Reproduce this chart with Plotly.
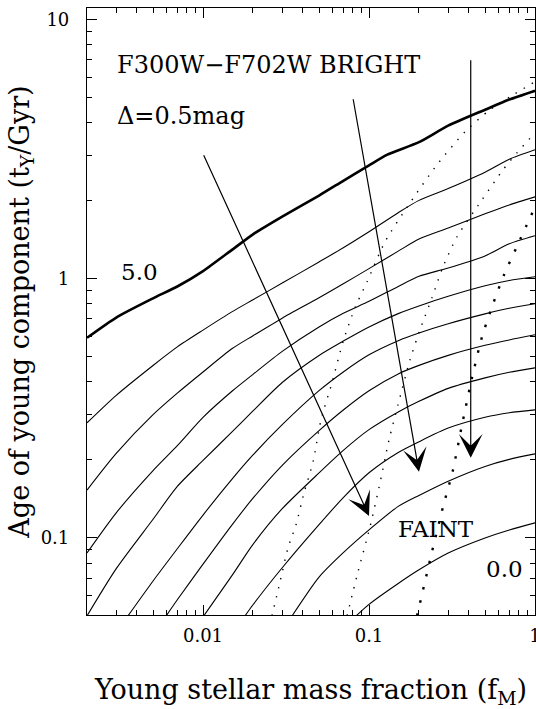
import numpy as np
import plotly.graph_objects as go

# ---------------- data ----------------
# contour curves of constant colour change, 5.0 (thick) down to 0.0 mag
x_grid = [0.002, 0.003, 0.005, 0.007, 0.01, 0.015, 0.02, 0.03, 0.05, 0.07,
          0.1, 0.15, 0.2, 0.3, 0.5, 0.7, 1.0]

c50_x = [0.002, 0.003, 0.005, 0.007, 0.01, 0.015, 0.02, 0.03, 0.05, 0.07,
         0.1, 0.128, 0.2, 0.3, 0.5, 0.7, 1.0]
c50_y = [0.592, 0.709, 0.841, 0.934, 1.071, 1.296, 1.485, 1.739, 2.096, 2.390,
         2.741, 3.01, 3.368, 3.901, 4.494, 4.920, 5.319]
c45_y = [0.278, 0.355, 0.463, 0.546, 0.634, 0.747, 0.830, 0.963, 1.162, 1.318,
         1.519, 1.800, 2.008, 2.230, 2.578, 2.893, 3.148]
c40_y = [0.153, 0.212, 0.299, 0.362, 0.437, 0.538, 0.603, 0.705, 0.845, 0.957,
         1.095, 1.279, 1.424, 1.571, 1.782, 1.929, 2.073]
c35_y = [0.0875, 0.125, 0.182, 0.227, 0.292, 0.369, 0.428, 0.525, 0.652, 0.736,
         0.819, 0.935, 1.023, 1.101, 1.226, 1.365, 1.466]
c30_y = [0.050, 0.0761, 0.118, 0.158, 0.199, 0.257, 0.309, 0.398, 0.506, 0.575,
         0.652, 0.734, 0.786, 0.856, 0.940, 0.985, 1.018]

c25_x = [0.00353, 0.005, 0.007, 0.01, 0.015, 0.02, 0.03, 0.05, 0.07, 0.1,
         0.15, 0.2, 0.3, 0.5, 0.7, 1.0]
c25_y = [0.050, 0.0682, 0.0908, 0.1225, 0.169, 0.209, 0.2735, 0.370, 0.437, 0.509,
         0.577, 0.618, 0.671, 0.7325, 0.770, 0.801]

c20_x = [0.006, 0.007, 0.01, 0.015, 0.02, 0.03, 0.05, 0.07, 0.1, 0.15,
         0.2, 0.3, 0.5, 0.7, 1.0]
c20_y = [0.050, 0.0577, 0.0792, 0.1126, 0.1423, 0.1907, 0.2596, 0.3118, 0.370, 0.4296,
         0.4634, 0.5065, 0.5537, 0.581, 0.608]

c15_x = [0.0101, 0.015, 0.02, 0.03, 0.05, 0.07, 0.1, 0.15, 0.2, 0.3, 0.5, 0.7, 1.0]
c15_y = [0.050, 0.0718, 0.0944, 0.1296, 0.1782, 0.2177, 0.2617, 0.3063, 0.3365,
         0.3777, 0.4147, 0.4359, 0.4533]

c10_x = [0.0179, 0.02, 0.03, 0.05, 0.07, 0.1, 0.15, 0.2, 0.3, 0.5, 0.7, 1.0]
c10_y = [0.050, 0.0552, 0.0767, 0.1125, 0.1431, 0.1784, 0.2137, 0.2351, 0.2654,
         0.2921, 0.3042, 0.312]

c05_x = [0.0344, 0.05, 0.07, 0.1, 0.15, 0.2, 0.3, 0.5, 0.7, 1.0]
c05_y = [0.050, 0.0706, 0.0877, 0.1074, 0.1323, 0.1459, 0.1656, 0.1888, 0.201, 0.211]

c00_x = [0.0836, 0.1, 0.15, 0.2, 0.3, 0.5, 0.7, 1.0]
c00_y = [0.050, 0.0554, 0.0667, 0.0753, 0.0874, 0.0999, 0.1073, 0.1143]

# dotted curves
d1_x = [0.0260, 0.0291, 0.0325, 0.0363, 0.0406, 0.0460, 0.0514, 0.0598, 0.0697,
        0.0823, 0.0973, 0.1249, 0.1766, 0.2568, 0.3788, 0.5357, 0.7071, 1.0]
d1_y = [0.050, 0.0676, 0.0915, 0.1122, 0.1492, 0.1965, 0.2855, 0.3967, 0.5712,
        0.7727, 0.9737, 1.390, 1.965, 2.756, 3.694, 4.494, 5.043, 5.763]
d2_x = [0.0737, 0.0858, 0.1014, 0.1165, 0.1320, 0.1495, 0.1766, 0.2028, 0.2395,
        0.2791, 0.3390, 0.4795, 0.6417, 0.7791, 1.0]
d2_y = [0.050, 0.0739, 0.1103, 0.1631, 0.2390, 0.3263, 0.4868, 0.6355, 0.8445,
        1.112, 1.453, 2.018, 2.636, 3.065, 3.662]
d3_x = [0.1946, 0.2395, 0.2791, 0.3206, 0.3633, 0.4174, 0.4795, 0.5508, 0.6507,
        0.8124, 1.0]
d3_y = [0.050, 0.0883, 0.1317, 0.1830, 0.2731, 0.4147, 0.5972, 0.7797, 1.036,
        1.415, 1.897]

# arrows: (start x, start y) -> (end x, end y)
arrow_x0 = [0.01, 0.080, 0.41]
arrow_y0 = [3.04, 5.0, 7.07]
arrow_x1 = [0.10, 0.20, 0.41]
arrow_y1 = [0.1216, 0.18, 0.204]

x_tickvals = [0.01, 0.1, 1]
x_ticktext = ["0.01", "0.1", "1"]
y_tickvals = [0.1, 1, 10]
y_ticktext = ["0.1", "1", "10"]

x_range = [0.002, 1.0]
y_range = [0.0504, 11.1]

# ---------------- figure ----------------
FONT = "DejaVu Serif"
fig = go.Figure()

thin = [(x_grid, c45_y), (x_grid, c40_y), (x_grid, c35_y), (x_grid, c30_y),
        (c25_x, c25_y), (c20_x, c20_y), (c15_x, c15_y), (c10_x, c10_y),
        (c05_x, c05_y), (c00_x, c00_y)]

fig.add_trace(go.Scatter(x=c50_x, y=c50_y, mode="lines",
                         line=dict(color="black", width=2.6, shape="spline", smoothing=0.6),
                         showlegend=False, hoverinfo="skip"))
for xs, ys in thin:
    fig.add_trace(go.Scatter(x=xs, y=ys, mode="lines",
                             line=dict(color="black", width=1.1, shape="spline", smoothing=0.7),
                             showlegend=False, hoverinfo="skip"))

for xs, ys, w, dash in [(d1_x, d1_y, 1.4, "1.4px,8px"),
                        (d2_x, d2_y, 1.4, "1.4px,8px"),
                        (d3_x, d3_y, 2.4, "2.5px,11px")]:
    fig.add_trace(go.Scatter(x=xs, y=ys, mode="lines",
                             line=dict(color="black", width=w, dash=dash,
                                       shape="spline", smoothing=0.7),
                             showlegend=False, hoverinfo="skip"))

for x0, y0, x1, y1 in zip(arrow_x0, arrow_y0, arrow_x1, arrow_y1):
    fig.add_annotation(x=np.log10(x1), y=np.log10(y1), ax=np.log10(x0), ay=np.log10(y0),
                       xref="x", yref="y", axref="x", ayref="y", text="",
                       showarrow=True, arrowhead=3, arrowsize=3.3, arrowwidth=1.2,
                       arrowcolor="black", standoff=0)

def label(text, x, y, size, xanchor="center"):
    fig.add_annotation(x=np.log10(x), y=np.log10(y), xref="x", yref="y", text=text,
                       showarrow=False, xanchor=xanchor, yanchor="middle",
                       font=dict(family=FONT, size=size, color="black"))

label("F300W\u2212F702W BRIGHT", 0.00295, 6.7, 24, "left")
label("\u0394=0.5mag", 0.00295, 4.26, 24, "left")
label("5.0", 0.00417, 1.064, 23)
label("FAINT", 0.2535, 0.108, 23)
label("0.0", 0.659, 0.0759, 23)

axis_common = dict(type="log", showline=True, linecolor="black", linewidth=1.2,
                   mirror="allticks", ticks="inside", ticklen=10, tickwidth=1,
                   tickcolor="black", showgrid=False, zeroline=False, automargin=False,
                   ticklabeloverflow="allow",
                   tickfont=dict(family=FONT, size=18, color="black"))

minor_vals = [m * 10.0 ** e for e in range(-3, 2) for m in range(2, 10)]

fig.update_xaxes(range=[np.log10(x_range[0]), np.log10(x_range[1])],
                 tickvals=x_tickvals, ticktext=x_ticktext,
                 minor=dict(ticks="inside", ticklen=5, tickcolor="black",
                            tickvals=minor_vals, showgrid=False),
                 ticklabelstandoff=4,
                 title=dict(text="Young stellar mass fraction (f<sub>M</sub>)",
                            font=dict(family=FONT, size=27, color="black"), standoff=35),
                 **axis_common)
fig.update_yaxes(range=[np.log10(y_range[0]), np.log10(y_range[1])],
                 tickvals=y_tickvals, ticktext=y_ticktext,
                 minor=dict(ticks="inside", ticklen=5, tickcolor="black",
                            tickvals=minor_vals, showgrid=False),
                 ticklabelstandoff=13,
                 title=dict(text="Age of young component (t<sub>Y</sub>/Gyr)",
                            font=dict(family=FONT, size=27, color="black"), standoff=3),
                 **axis_common)

fig.update_layout(width=536, height=709, plot_bgcolor="white", paper_bgcolor="white",
                  margin=dict(l=87, r=1, t=8, b=94), showlegend=False)

fig.write_html("out.html", config={"displayModeBar": False},
               post_script="document.body.style.margin='0';document.body.style.overflow='hidden';")
